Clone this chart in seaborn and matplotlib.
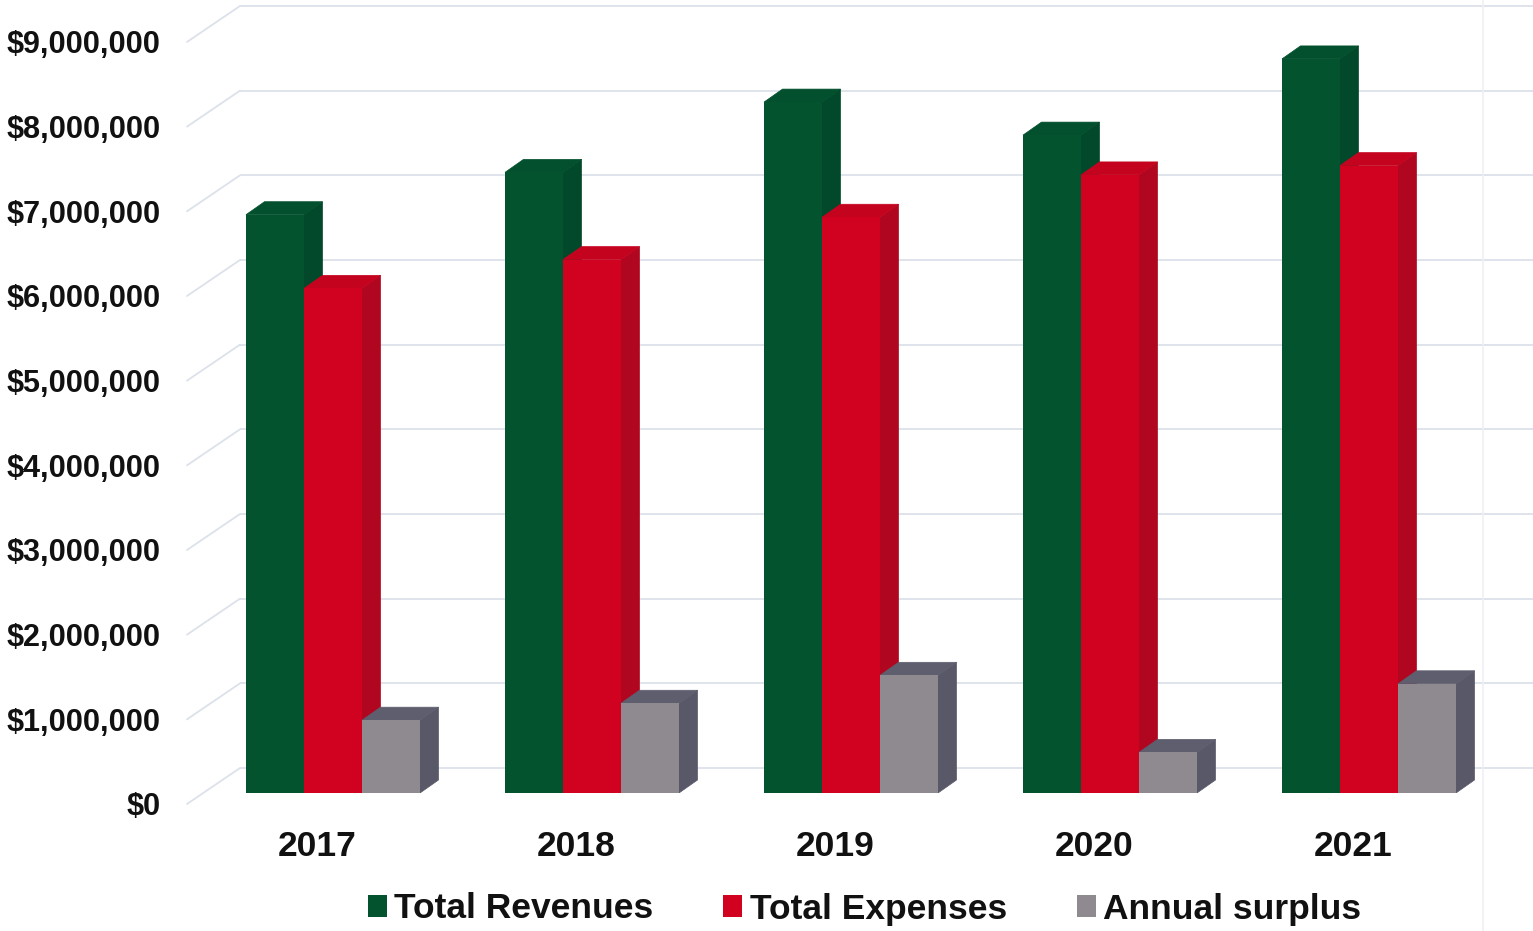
import matplotlib
matplotlib.use("Agg")
import matplotlib.pyplot as plt
from matplotlib.patches import Polygon
from matplotlib.transforms import Affine2D
import pandas as pd
import seaborn as sns

# ---- data ----
years = ["2017", "2018", "2019", "2020", "2021"]
total_revenues = [6830000, 7330000, 8160000, 7770000, 8670000]
total_expenses = [5960000, 6300000, 6800000, 7300000, 7410000]
annual_surplus = [860000, 1060000, 1390000, 480000, 1290000]
series_names = ["Total Revenues", "Total Expenses", "Annual surplus"]
y_ticks = [0, 1000000, 2000000, 3000000, 4000000, 5000000, 6000000, 7000000, 8000000, 9000000]

# ---- style ----
W, H = 1533, 931
FONT = "Liberation Sans"
front = ["#02532e", "#d0021f", "#8e8a90"]
side = ["#02482a", "#b0061f", "#585868"]
top = ["#02502d", "#c4041f", "#5e5e6e"]
GRID = "#dce1ea"
PX_PER_UNIT = 84.67 / 1e6
GROUP_PX = 259.0
FIRST_GROUP_PX = 333.0
BASE_PX = 793.0
DEPTH_X, DEPTH_Y = 18.5, 13.0   # pixels

sns.set_theme(style="white", rc={"font.family": [FONT, "DejaVu Sans"]})
fig = plt.figure(figsize=(W / 100, H / 100), dpi=100, facecolor="white")
LEFT_PX = 188.0
ax = fig.add_axes([LEFT_PX / W, (H - BASE_PX) / H, (W - LEFT_PX) / W, BASE_PX / H])
ax.set_facecolor("none")

df = pd.DataFrame({
    "year": years * 3,
    "series": sum([[n] * len(years) for n in series_names], []),
    "value": total_revenues + total_expenses + annual_surplus,
})
sns.barplot(data=df, x="year", y="value", hue="series", hue_order=series_names,
            palette=front, width=174 / GROUP_PX, gap=0, saturation=1, ax=ax,
            errorbar=None, linewidth=0)

ax.set_xlim((LEFT_PX - FIRST_GROUP_PX) / GROUP_PX, (W - FIRST_GROUP_PX) / GROUP_PX)
ax.set_ylim(0, BASE_PX / PX_PER_UNIT)
dx = DEPTH_X / GROUP_PX
dy = DEPTH_Y / PX_PER_UNIT

# ---- 3-D depth of every bar, derived from the bars themselves ----
for i, container in enumerate(ax.containers):
    base_z = 3 + 2 * i
    for bar in container:
        bar.set_zorder(base_z + 1)
        x0, w, h = bar.get_x(), bar.get_width(), bar.get_height()
        x1 = x0 + w
        ax.add_patch(Polygon([(x1, 0), (x1 + dx, dy), (x1 + dx, h + dy), (x1, h)],
                             closed=True, fc=side[i], ec=side[i], lw=0.5, zorder=base_z))
        ax.add_patch(Polygon([(x0, h), (x0 + dx, h + dy), (x1 + dx, h + dy), (x1, h)],
                             closed=True, fc=top[i], ec=top[i], lw=0.5, zorder=base_z))

# ---- wall gridlines ----
BACK_X = (240.0 - FIRST_GROUP_PX) / GROUP_PX
FRONT_X = (187.0 - FIRST_GROUP_PX) / GROUP_PX
RIGHT_X = (W - FIRST_GROUP_PX) / GROUP_PX
for v in y_ticks:
    back = v + 25 / PX_PER_UNIT
    fr = v - 11 / PX_PER_UNIT
    ax.plot([BACK_X, RIGHT_X], [back, back], color=GRID, lw=1.3, zorder=1,
            clip_on=False, solid_capstyle="butt")
    ax.plot([FRONT_X, BACK_X], [fr, back], color=GRID, lw=1.3, zorder=1, clip_on=False)
edge_x = (1483.0 - FIRST_GROUP_PX) / GROUP_PX
ax.plot([edge_x, edge_x], [-138 / PX_PER_UNIT, 793 / PX_PER_UNIT], color="#eef0f5",
        lw=1.2, zorder=1, clip_on=False)

# ---- axes text ----
for s in ax.spines.values():
    s.set_visible(False)
ax.grid(False)
ax.set_xlabel("")
ax.set_ylabel("")
ax.set_yticks(y_ticks)
ax.set_yticklabels([f"${v:,.0f}" for v in y_ticks], fontsize=22.1, fontweight="bold",
                   color="#111111", family=FONT)
ax.set_xticks(range(len(years)))
ax.set_xticklabels(years, fontsize=25.5, fontweight="bold", color="#111111", family=FONT)
ax.tick_params(axis="y", length=0, pad=19.5)
ax.tick_params(axis="x", length=0, pad=27)
for lab in ax.get_yticklabels():
    lab.set_transform(lab.get_transform() + Affine2D().translate(0, -11))
for lab in ax.get_xticklabels():
    lab.set_transform(lab.get_transform() + Affine2D().translate(-16, 0))

# ---- legend ----
handles, labels = ax.get_legend_handles_labels()
if ax.get_legend():
    ax.get_legend().remove()
fig.legend(handles, labels, loc="center", bbox_to_anchor=(864.5 / W, 1 - 909 / H), ncols=3,
           frameon=False, borderpad=0, handlelength=0.54, handleheight=0.54,
           handletextpad=0.2, columnspacing=1.985,
           prop={"family": FONT, "weight": "bold", "size": 25.5}, labelcolor="#111111")

fig.savefig("out.png", dpi=100, facecolor="white")
